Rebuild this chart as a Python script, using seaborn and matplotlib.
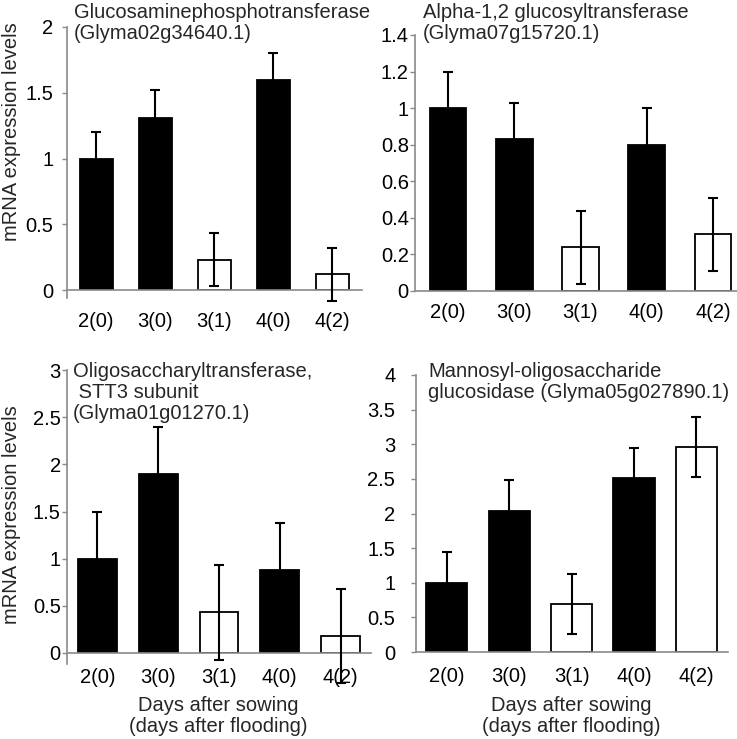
import matplotlib
matplotlib.use("Agg")
import matplotlib.pyplot as plt
import seaborn as sns
import pandas as pd
import numpy as np

sns.set_theme(style="white")
plt.rcParams['font.family'] = ['Liberation Sans', 'DejaVu Sans']

categories = ["2(0)", "3(0)", "3(1)", "4(0)", "4(2)"]
flooded = [False, False, True, False, True]

p1_values = [1.00, 1.31, 0.23, 1.60, 0.12]
p1_errors = [0.20, 0.21, 0.20, 0.20, 0.20]
p2_values = [1.00, 0.83, 0.24, 0.80, 0.31]
p2_errors = [0.20, 0.20, 0.20, 0.20, 0.20]
p3_values = [1.00, 1.90, 0.43, 0.88, 0.18]
p3_errors = [0.50, 0.50, 0.50, 0.50, 0.50]
p4_values = [1.00, 2.04, 0.69, 2.51, 2.96]
p4_errors = [0.44, 0.44, 0.43, 0.44, 0.43]

p1_ticks = [0, 0.5, 1, 1.5, 2]
p1_ticklabels = ["0", "0.5", "1", "1.5", "2"]
p2_ticks = [0, 0.2, 0.4, 0.6, 0.8, 1.0, 1.2, 1.4]
p2_ticklabels = ["0", "0.2", "0.4", "0.6", "0.8", "1", "1.2", "1.4"]
p3_ticks = [0, 0.5, 1, 1.5, 2, 2.5, 3]
p3_ticklabels = ["0", "0.5", "1", "1.5", "2", "2.5", "3"]
p4_ticks = [0, 0.5, 1, 1.5, 2, 2.5, 3, 3.5, 4]
p4_ticklabels = ["0", "0.5", "1", "1.5", "2", "2.5", "3", "3.5", "4"]

p1_title = "Glucosaminephosphotransferase\n(Glyma02g34640.1)"
p2_title = "Alpha-1,2 glucosyltransferase\n(Glyma07g15720.1)"
p3_title = "Oligosaccharyltransferase,\n STT3 subunit\n(Glyma01g01270.1)"
p4_title = "Mannosyl-oligosaccharide\nglucosidase (Glyma05g027890.1)"

ylabel = "mRNA expression levels"
xlabel = "Days after sowing\n(days after flooding)"

W, H = 737, 739
fig = plt.figure(figsize=(W / 100, H / 100), dpi=100)

def rect(left, right, top, bottom):
    return [left / W, 1 - bottom / H, (right - left) / W, (bottom - top) / H]

FS = 14.5
AXC = "#8a8a8a"

panels = [
    dict(r=rect(66.6, 362, 27, 290), v=p1_values, e=p1_errors, t=p1_ticks, tl=p1_ticklabels,
         ymax=2, width=0.56, ext=0.06, xpad=15.5, ypad=6),
    dict(r=rect(415, 746, 35, 291), v=p2_values, e=p2_errors, t=p2_ticks, tl=p2_ticklabels,
         ymax=1.4, width=0.55, ext=0.0, xpad=8.5, ypad=1),
    dict(r=rect(67, 371, 370, 653), v=p3_values, e=p3_errors, t=p3_ticks, tl=p3_ticklabels,
         ymax=3, width=0.64, ext=0.12, xpad=11, ypad=1),
    dict(r=rect(415.5, 727.7, 375, 652), v=p4_values, e=p4_errors, t=p4_ticks, tl=p4_ticklabels,
         ymax=4, width=0.66, ext=0.0, xpad=11, ypad=11),
]

for p in panels:
    ax = fig.add_axes(p["r"])
    df = pd.DataFrame({"cat": categories, "val": p["v"]})
    sns.barplot(data=df, x="cat", y="val", hue="cat",
                palette={c: ("white" if f else "black") for c, f in zip(categories, flooded)},
                order=categories, width=p["width"], edgecolor="black", linewidth=1.3,
                legend=False, ax=ax, errorbar=None, saturation=1)
    centers = [b.get_x() + b.get_width() / 2 for b in ax.patches]
    ax.errorbar(centers, df["val"], yerr=p["e"], fmt="none", ecolor="black",
                elinewidth=1.5, capsize=3.3, capthick=1.5, zorder=5, clip_on=False)
    ax.set_xlim(-0.5, 4.5)
    ax.set_ylim(0, p["ymax"])
    ax.set_yticks(p["t"])
    ax.set_yticklabels(p["tl"], fontsize=FS, color="black")
    ax.set_xticks(range(len(categories)))
    ax.set_xticklabels(categories, fontsize=FS, color="black")
    ax.set_xlabel("")
    ax.set_ylabel("")
    for s in ["top", "right"]:
        ax.spines[s].set_visible(False)
    for s in ["left", "bottom"]:
        ax.spines[s].set_color(AXC)
        ax.spines[s].set_linewidth(1.2)
    ax.spines["left"].set_bounds(-p["ext"], p["ymax"])
    ax.tick_params(axis="x", length=0, pad=p["xpad"])
    ax.tick_params(axis="y", length=3.5, width=1.0, color=AXC, direction="out", pad=p["ypad"], left=True)
    ax.set_facecolor("none")
    ax.grid(False)

# titles
fig.text(74 / W, 1 - 3 / H, p1_title, fontsize=FS, va="top", ha="left", linespacing=1.12)
fig.text(423 / W, 1 - 3 / H, p2_title, fontsize=FS, va="top", ha="left", linespacing=1.12)
fig.text(73 / W, 1 - 362 / H, p3_title, fontsize=FS, va="top", ha="left", linespacing=1.12)
fig.text(428 / W, 1 - 362 / H, p4_title, fontsize=FS, va="top", ha="left", linespacing=1.12)

# y labels
fig.text(12 / W, 1 - 132 / H, ylabel, fontsize=FS, rotation=90, ha="center", va="center")
fig.text(12 / W, 1 - 515 / H, ylabel, fontsize=FS, rotation=90, ha="center", va="center")

# x labels
fig.text(218 / W, 1 - 716 / H, xlabel, fontsize=FS, ha="center", va="center", linespacing=1.15)
fig.text(571 / W, 1 - 716 / H, xlabel, fontsize=FS, ha="center", va="center", linespacing=1.15)

fig.savefig("out.png", dpi=100, facecolor="white")
